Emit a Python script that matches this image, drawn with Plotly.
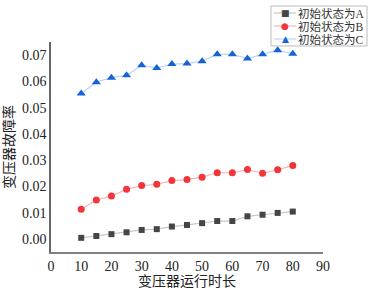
import plotly.graph_objects as go

run_time = [10, 15, 20, 25, 30, 35, 40, 45, 50, 55, 60, 65, 70, 75, 80]
state_a = [0.0004, 0.0011, 0.0018, 0.0025, 0.0034, 0.0037, 0.0047, 0.0053, 0.0060, 0.0068, 0.0068, 0.0086, 0.0092, 0.0099, 0.0104]
state_b = [0.0113, 0.0148, 0.0163, 0.0189, 0.0203, 0.0208, 0.0222, 0.0226, 0.0235, 0.0252, 0.0252, 0.0264, 0.0250, 0.0263, 0.0280]
state_c = [0.0554, 0.0597, 0.0614, 0.0623, 0.0661, 0.0651, 0.0666, 0.0668, 0.0677, 0.0703, 0.0703, 0.0687, 0.0703, 0.0719, 0.0705]
names = ["初始状态为A", "初始状态为B", "初始状态为C"]
x_ticks = [0, 10, 20, 30, 40, 50, 60, 70, 80, 90]
y_ticks = [0.00, 0.01, 0.02, 0.03, 0.04, 0.05, 0.06, 0.07]

FONT = '"Liberation Serif", "Noto Sans CJK SC", serif'

# layout geometry (pixels)
W, H = 373, 293
ML, MR, MT, MB = 51, 50, 42, 41
PW, PH = W - ML - MR, H - MT - MB


def px_x(px):
    return (px - ML) / PW


def px_y(py):
    return (H - MB - py) / PH


fig = go.Figure()
styles = [
    (state_a, "#c8c8c8", "#454545", "square", 6, "■", 9),
    (state_b, "#f6b4b6", "#f2353b", "circle", 7, "●", 9),
    (state_c, "#bcd5f3", "#1662d6", "triangle-up", 8, "▲", 9),
]
for name, (vals, lc, mc, sym, ms, _g, _gs) in zip(names, styles):
    fig.add_trace(go.Scatter(
        x=run_time, y=vals, name=name, mode="lines+markers",
        line=dict(color=lc, width=1.2),
        marker=dict(color=mc, symbol=sym, size=ms),
        showlegend=False,
    ))

# compact legend box (matches the tight spacing of the reference)
shapes = [dict(
    type="rect", xref="paper", yref="paper",
    x0=px_x(271), x1=px_x(367), y0=px_y(46), y1=px_y(6),
    line=dict(color="#bbbbbb", width=1), fillcolor="white", layer="above",
)]
annotations = []
row_y = [13.0, 26.0, 39.0]
for name, ry, (vals, lc, mc, sym, ms, glyph, gs) in zip(names, row_y, styles):
    shapes.append(dict(
        type="line", xref="paper", yref="paper",
        x0=px_x(274), x1=px_x(296), y0=px_y(ry), y1=px_y(ry),
        line=dict(color=lc, width=1.2), layer="above",
    ))
    annotations.append(dict(
        xref="paper", yref="paper", x=px_x(285), y=px_y(ry),
        xanchor="center", yanchor="middle", showarrow=False, borderpad=0,
        text=glyph, font=dict(family="DejaVu Sans", size=gs, color=mc),
    ))
    annotations.append(dict(
        xref="paper", yref="paper", x=px_x(297), y=px_y(ry),
        xanchor="left", yanchor="middle", showarrow=False, borderpad=0,
        text=name, font=dict(family=FONT, size=11.5, color="#333"),
    ))

fig.update_layout(
    width=W, height=H,
    margin=dict(l=ML, r=MR, t=MT, b=MB, autoexpand=False),
    paper_bgcolor="white", plot_bgcolor="white",
    font=dict(family=FONT, size=14, color="#222"),
    showlegend=False,
    shapes=shapes, annotations=annotations,
    xaxis=dict(
        range=[0, 90], tickvals=x_ticks, showgrid=False, zeroline=False,
        showline=True, linecolor="#808080", linewidth=2, ticks="",
        automargin=False,
        title=dict(text="变压器运行时长", font=dict(size=14), standoff=3),
        tickfont=dict(size=14),
    ),
    yaxis=dict(
        range=[-0.005, 0.075], tickvals=y_ticks, tickformat=".2f",
        showgrid=False, zeroline=False, automargin=False,
        showline=True, linecolor="#666666", linewidth=1.5, ticks="",
        title=dict(text="变压器故障率", font=dict(size=14), standoff=4),
        tickfont=dict(size=14),
    ),
)

fig.write_html(
    "out.html",
    config={"displayModeBar": False},
    post_script="document.body.style.margin='0';document.body.style.padding='0';",
)
